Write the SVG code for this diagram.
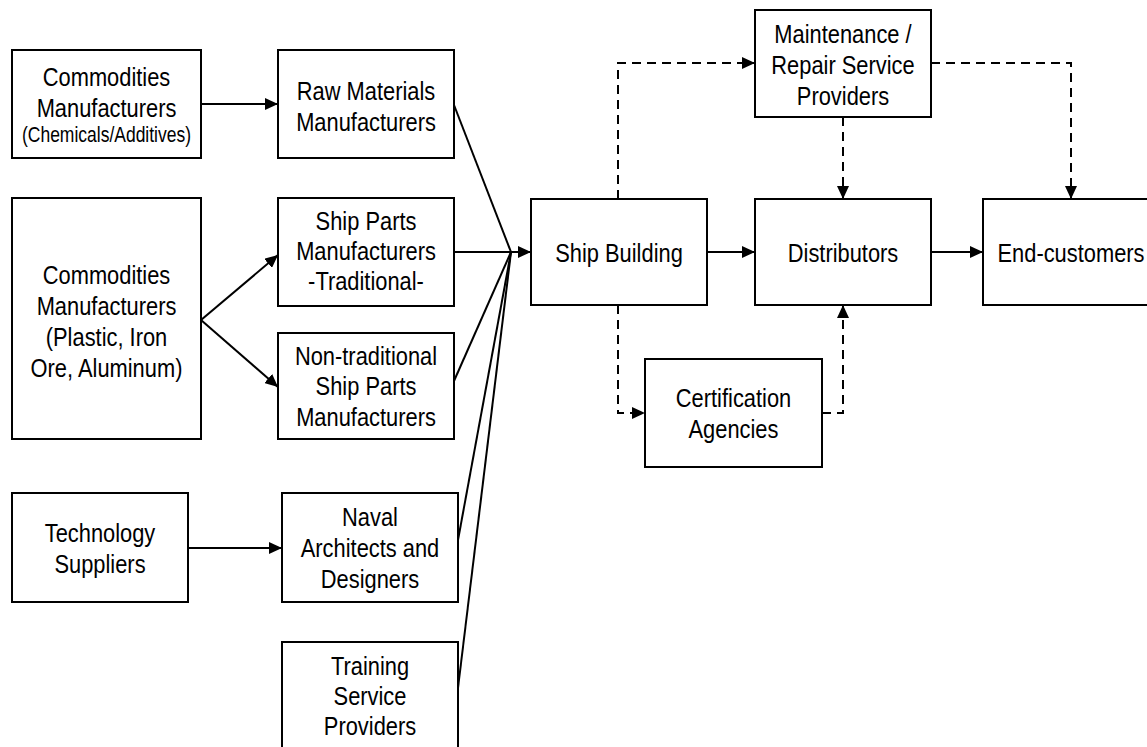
<svg xmlns="http://www.w3.org/2000/svg" width="1147" height="747" viewBox="0 0 1147 747">
<style>
rect.box{fill:#fff;stroke:#000;stroke-width:2}
text{font-family:"Liberation Sans",Arial,sans-serif;font-size:26.67px;text-anchor:middle;fill:#000}
text.s{font-size:21.33px}
.c{fill:none;stroke:#000;stroke-width:2}
.d{stroke-dasharray:9,6}
</style>
<defs>
<marker id="ah" markerUnits="userSpaceOnUse" markerWidth="13" markerHeight="12" refX="13" refY="6" orient="auto" viewBox="0 0 13 12">
<path d="M0,0 L13,6 L0,12 z" fill="#000"/>
</marker>
</defs>
<rect width="1147" height="747" fill="#fff"/>
<g id="connectors">
<line class="c" x1="201" y1="104" x2="278" y2="104" marker-end="url(#ah)"/>
<line class="c" x1="201" y1="320" x2="278" y2="255" marker-end="url(#ah)"/>
<line class="c" x1="201" y1="320" x2="278" y2="387" marker-end="url(#ah)"/>
<line class="c" x1="187" y1="548" x2="282" y2="548" marker-end="url(#ah)"/>
<line class="c" x1="454" y1="105" x2="511" y2="252"/>
<line class="c" x1="454" y1="381" x2="511" y2="252"/>
<line class="c" x1="458" y1="540" x2="511" y2="252"/>
<line class="c" x1="458" y1="688" x2="511" y2="252"/>
<line class="c" x1="454" y1="252" x2="531" y2="252" marker-end="url(#ah)"/>
<line class="c" x1="707" y1="252" x2="755" y2="252" marker-end="url(#ah)"/>
<line class="c" x1="931" y1="252" x2="983" y2="252" marker-end="url(#ah)"/>
<path class="c d" d="M618,199 L618,63 L755,63" marker-end="url(#ah)"/>
<path class="c d" d="M843,117 L843,199" marker-end="url(#ah)"/>
<path class="c d" d="M931,63 L1071,63 L1071,199" marker-end="url(#ah)"/>
<path class="c d" d="M618,305 L618,413 L645,413" marker-end="url(#ah)"/>
<path class="c d" d="M822,413 L843,413 L843,305" marker-end="url(#ah)"/>
</g>
<g id="comm1">
<rect class="box" x="12" y="50" width="189" height="108"/>
<text transform="translate(106.5,86) scale(0.82,1)">Commodities</text>
<text transform="translate(106.5,117) scale(0.82,1)">Manufacturers</text>
<text class="s" transform="translate(106.5,142) scale(0.82,1)">(Chemicals/Additives)</text>
</g>
<g id="raw">
<rect class="box" x="278" y="50" width="176" height="108"/>
<text transform="translate(366,100) scale(0.82,1)">Raw Materials</text>
<text transform="translate(366,131) scale(0.82,1)">Manufacturers</text>
</g>
<g id="comm2">
<rect class="box" x="12" y="198" width="189" height="241"/>
<text transform="translate(106.5,284) scale(0.82,1)">Commodities</text>
<text transform="translate(106.5,315) scale(0.82,1)">Manufacturers</text>
<text transform="translate(106.5,346) scale(0.82,1)">(Plastic, Iron</text>
<text transform="translate(106.5,377) scale(0.82,1)">Ore, Aluminum)</text>
</g>
<g id="trad">
<rect class="box" x="278" y="198" width="176" height="108"/>
<text transform="translate(366,230) scale(0.82,1)">Ship Parts</text>
<text transform="translate(366,260) scale(0.82,1)">Manufacturers</text>
<text transform="translate(366,290) scale(0.82,1)">-Traditional-</text>
</g>
<g id="nontrad">
<rect class="box" x="278" y="333" width="176" height="106"/>
<text transform="translate(366,365) scale(0.82,1)">Non-traditional</text>
<text transform="translate(366,395) scale(0.82,1)">Ship Parts</text>
<text transform="translate(366,426) scale(0.82,1)">Manufacturers</text>
</g>
<g id="tech">
<rect class="box" x="12" y="493" width="176" height="109"/>
<text transform="translate(100,542) scale(0.82,1)">Technology</text>
<text transform="translate(100,573) scale(0.82,1)">Suppliers</text>
</g>
<g id="naval">
<rect class="box" x="282" y="493" width="176" height="109"/>
<text transform="translate(370,526) scale(0.82,1)">Naval</text>
<text transform="translate(370,557) scale(0.82,1)">Architects and</text>
<text transform="translate(370,588) scale(0.82,1)">Designers</text>
</g>
<g id="training">
<rect class="box" x="282" y="642" width="176" height="110"/>
<text transform="translate(370,675) scale(0.82,1)">Training</text>
<text transform="translate(370,705) scale(0.82,1)">Service</text>
<text transform="translate(370,735) scale(0.82,1)">Providers</text>
</g>
<g id="shipbuilding">
<rect class="box" x="531" y="199" width="176" height="106"/>
<text transform="translate(619,262) scale(0.82,1)">Ship Building</text>
</g>
<g id="maintenance">
<rect class="box" x="755" y="10" width="176" height="107"/>
<text transform="translate(843,43) scale(0.82,1)">Maintenance /</text>
<text transform="translate(843,74) scale(0.82,1)">Repair Service</text>
<text transform="translate(843,105) scale(0.82,1)">Providers</text>
</g>
<g id="distributors">
<rect class="box" x="755" y="199" width="176" height="106"/>
<text transform="translate(843,262) scale(0.82,1)">Distributors</text>
</g>
<g id="endcustomers">
<rect class="box" x="983" y="199" width="176" height="106"/>
<text transform="translate(1071,262) scale(0.82,1)">End-customers</text>
</g>
<g id="certification">
<rect class="box" x="645" y="359" width="177" height="108"/>
<text transform="translate(733.5,407) scale(0.82,1)">Certification</text>
<text transform="translate(733.5,438) scale(0.82,1)">Agencies</text>
</g>
</svg>
